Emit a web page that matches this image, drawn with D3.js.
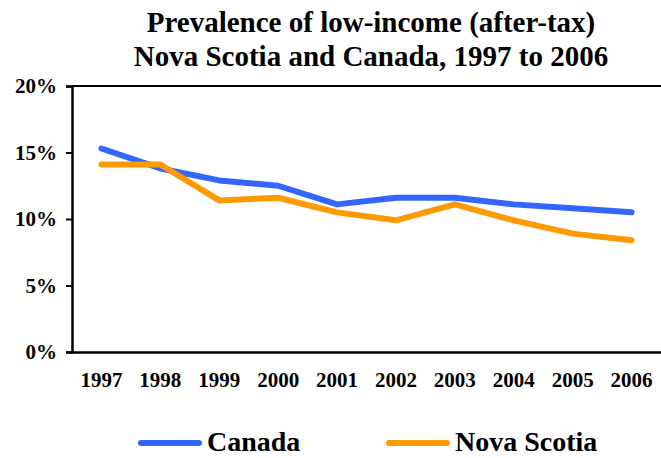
<!DOCTYPE html>
<html>
<head>
<meta charset="utf-8">
<script src="https://cdn.jsdelivr.net/npm/d3@7"></script>
<style>
  html, body { margin: 0; padding: 0; background: #fff; }
  svg { display: block; font-family: "Liberation Serif", "Times New Roman", serif; font-weight: bold; }
</style>
</head>
<body>
<svg id="chart" width="661" height="458"></svg>
<script>
// Low-income prevalence (after-tax LICO), percent of persons
const years = ["1997","1998","1999","2000","2001","2002","2003","2004","2005","2006"];
const canada = [15.3, 13.8, 12.9, 12.5, 11.1, 11.6, 11.6, 11.1, 10.8, 10.5];
const novaScotia = [14.1, 14.1, 11.4, 11.6, 10.5, 9.9, 11.1, 9.9, 8.9, 8.4];
const yTicks = [0, 5, 10, 15, 20];
const seriesNames = ["Canada", "Nova Scotia"];
const seriesColors = ["#3366FF", "#FF9900"];
const titleLines = ["Prevalence of low-income (after-tax)", "Nova Scotia and Canada, 1997 to 2006"];

const svg = d3.select("#chart");
const margin = { top: 86, right: 0, bottom: 106, left: 72 };
const W = 661, H = 458;
const innerW = W - margin.left - margin.right;
const innerH = H - margin.top - margin.bottom;

const x = d3.scaleBand().domain(years).range([margin.left, margin.left + innerW]);
const y = d3.scaleLinear().domain([0, 20]).range([margin.top + innerH, margin.top]);

// Title
svg.append("g").selectAll("text").data(titleLines).join("text")
  .attr("x", 371).attr("y", (d, i) => 32 + i * 34)
  .attr("text-anchor", "middle").attr("font-size", 29).attr("fill", "#000")
  .text(d => d);

// Top frame line
svg.append("line")
  .attr("x1", margin.left).attr("x2", W)
  .attr("y1", y(20)).attr("y2", y(20))
  .attr("stroke", "#000").attr("stroke-width", 2);

// Y axis
const yAxis = svg.append("g")
  .attr("transform", `translate(${margin.left},0)`)
  .call(d3.axisLeft(y).tickValues(yTicks).tickFormat(d => d + "%").tickSize(6).tickPadding(9))
  .attr("font-family", null).attr("font-size", 21);
yAxis.select(".domain").attr("stroke-width", 2.5);
yAxis.selectAll(".tick line").attr("stroke-width", 2);
yAxis.selectAll("text").attr("fill", "#000");

// X axis
const xAxis = svg.append("g")
  .attr("transform", `translate(0,${y(0)})`)
  .call(d3.axisBottom(x).tickSize(0).tickPadding(20))
  .attr("font-family", null).attr("font-size", 21);
xAxis.select(".domain").attr("stroke-width", 2.5);
xAxis.selectAll("text").attr("fill", "#000");

// Series lines
const line = d3.line()
  .x((d, i) => x(years[i]) + x.bandwidth() / 2)
  .y(d => y(d));

[canada, novaScotia].forEach((vals, k) => {
  svg.append("path")
    .datum(vals)
    .attr("d", line)
    .attr("fill", "none")
    .attr("stroke", seriesColors[k])
    .attr("stroke-width", 6)
    .attr("stroke-linecap", "round")
    .attr("stroke-linejoin", "round");
});

// Legend
const legendX = [141, 389];
const legend = svg.append("g").selectAll("g").data(seriesNames).join("g")
  .attr("transform", (d, i) => `translate(${legendX[i]},443)`);
legend.append("line")
  .attr("x1", 0).attr("x2", 58).attr("y1", 0).attr("y2", 0)
  .attr("stroke", (d, i) => seriesColors[i]).attr("stroke-width", 6)
  .attr("stroke-linecap", "round");
legend.append("text")
  .attr("x", 66).attr("y", 8)
  .attr("font-size", 28).attr("fill", "#000")
  .text(d => d);
</script>
</body>
</html>
